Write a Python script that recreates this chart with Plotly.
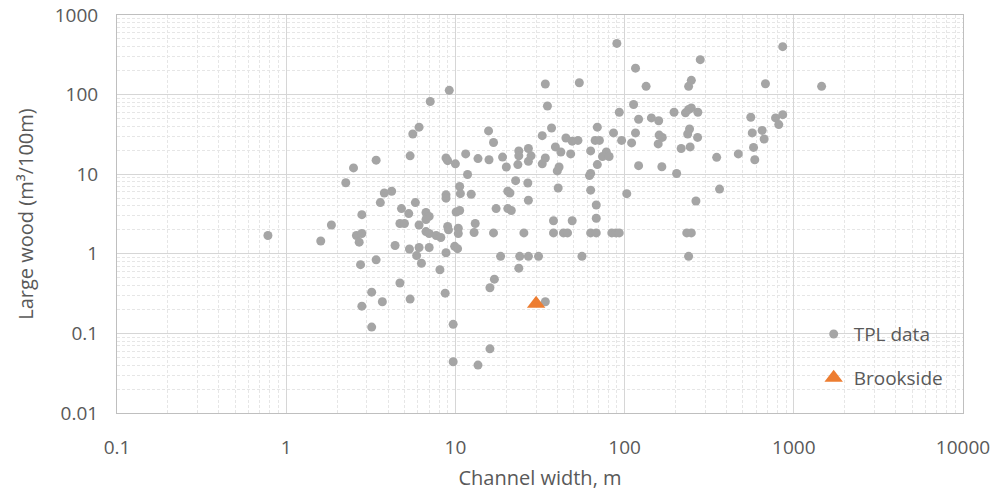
import plotly.graph_objects as go

# TPL data: channel width (m) and large wood volume (m3/100m)
tpl_width = [
    9.2, 7.1, 6.1, 5.6, 5.4, 3.4, 2.5, 8.8, 9.0, 10, 11.5, 13.6, 2.25, 11.8, 3.8, 4.2, 3.6, 10.6, 8.8, 8.8,
    10.7, 12.4, 5.8, 4.8, 5.3, 2.8, 6.7, 7.0, 6.7, 4.7, 5.0, 6.1, 1.85, 10.1, 10.6, 13.1, 9.0, 9.1, 10.4, 10.4,
    12.9, 6.7, 7.0, 7.7, 8.2, 0.78, 2.6, 2.8, 2.7, 1.6, 4.4, 5.35, 6.1, 7.0, 5.9, 6.3, 9.9, 10.3, 8.8, 2.75,
    3.4, 8.1, 4.7, 3.2, 3.7, 5.4, 8.7, 2.8, 3.2, 9.7, 9.7, 13.6, 16,
    90, 280, 116, 34, 54, 134, 248, 239, 35, 113, 93, 196, 229, 239, 248, 271, 121, 144, 159, 15.7,
    16.8, 37, 69, 32.6, 86, 116, 242, 236, 270, 160, 167, 158, 45, 49, 53, 67, 71, 96, 110, 39,
    42, 48, 63, 23.7, 23.7, 27, 28, 27, 15.8, 19, 20, 23.4, 34, 32.6, 78, 74, 81, 69, 41, 40,
    63, 62, 121, 166, 216, 244, 203, 350, 22.7, 26.8, 20.4, 21, 40.5, 63, 103, 364, 27, 17.4, 20.4, 21.4,
    68, 264, 16.8, 25.4, 38, 49, 68, 38, 43.5, 46, 63, 68, 84, 89, 93, 233, 248, 18.5, 24, 27,
    31, 56, 239, 23.7, 17, 16, 34,
    860, 680, 1460, 557, 780, 860, 815, 568, 650, 668, 578, 470, 588,
]
tpl_wood = [
    113, 82, 39, 32, 17, 15, 12, 16, 14.8, 13.5, 18, 15.7, 7.8, 9.9, 5.8, 6.1, 4.4, 7.0, 5.5, 5.0,
    5.7, 5.6, 4.4, 3.7, 3.2, 3.1, 3.3, 2.95, 2.7, 2.4, 2.4, 2.3, 2.3, 3.35, 3.5, 2.4, 2.2, 2.0, 2.1, 1.8,
    1.85, 1.9, 1.8, 1.7, 1.6, 1.7, 1.7, 1.8, 1.4, 1.45, 1.27, 1.15, 1.2, 1.2, 0.95, 0.76, 1.24, 1.16, 1.03, 0.73,
    0.84, 0.63, 0.43, 0.33, 0.25, 0.27, 0.32, 0.22, 0.12, 0.13, 0.044, 0.04, 0.064,
    440, 275, 215, 136, 141, 127, 151, 127, 72, 75, 60, 60, 59, 65, 68, 60, 49, 51, 47, 35,
    25, 38, 39, 30.5, 33, 33, 37, 32, 29, 31, 29, 24, 28.5, 26, 26.6, 26.6, 26.6, 26.6, 24.7, 22,
    19, 18, 19.6, 19.6, 17, 21, 17, 14.5, 15.2, 16.4, 12.3, 13.2, 16, 13.5, 19, 16.7, 16.7, 13.2, 12.3, 11,
    10.2, 9.6, 12.8, 12.4, 21, 22, 10.2, 16.3, 8.3, 7.75, 6.1, 5.8, 6.7, 6.3, 5.7, 6.5, 4.7, 3.7, 3.7, 3.5,
    4.1, 4.6, 1.83, 1.83, 2.6, 2.6, 2.8, 1.83, 1.83, 1.83, 1.83, 1.83, 1.83, 1.83, 1.83, 1.83, 1.83, 0.93, 0.93, 0.93,
    0.93, 0.93, 0.93, 0.66, 0.48, 0.375, 0.25,
    400, 137, 127, 52, 51, 56, 42, 33, 35.5, 27.7, 21.7, 18, 15.2,
]

# Brookside site
brook_width = [30]
brook_wood = [0.235]

x_ticks = [0.1, 1, 10, 100, 1000, 10000]
x_tick_text = ["0.1", "1", "10", "100", "1000", "10000"]
y_ticks = [0.01, 0.1, 1, 10, 100, 1000]
y_tick_text = ["0.01", "0.1", "1", "10", "100", "1000"]

FONT = "Open Sans"
TXT = "#595959"

fig = go.Figure()
fig.add_trace(go.Scatter(
    x=tpl_width, y=tpl_wood, mode="markers", name="TPL data",
    marker=dict(symbol="circle", size=9, color="#a5a5a5"),
    legend="legend",
))
fig.add_trace(go.Scatter(
    x=brook_width, y=brook_wood, mode="markers", name="Brookside",
    marker=dict(symbol="triangle-up", size=16, color="#ed7d31"),
    legend="legend2",
))

axis_common = dict(
    type="log", automargin=False,
    showline=True, mirror=True, linecolor="#bfbfbf", linewidth=1,
    showgrid=True, gridcolor="#d6d6d6", gridwidth=1,
    zeroline=False,
    ticks="outside", tickcolor="rgba(0,0,0,0)",
    ticklabeloverflow="allow",
    tickfont=dict(family=FONT, size=19, color=TXT),
    minor=dict(showgrid=True, gridcolor="#e6e6e6", griddash="3px,2px", gridwidth=1, dtick="D1", ticks=""),
)

fig.update_xaxes(
    **axis_common,
    range=[-1, 4],
    tickvals=x_ticks, ticktext=x_tick_text,
    ticklen=17,
    title=dict(text="Channel width, m", font=dict(family=FONT, size=20, color=TXT), standoff=12),
)
fig.update_yaxes(
    **axis_common,
    range=[-2, 3],
    tickvals=y_ticks, ticktext=y_tick_text,
    ticklen=14,
    title=dict(text="Large wood (m³/100m)", font=dict(family=FONT, size=20, color=TXT), standoff=15),
)

legend_common = dict(
    xanchor="left", yanchor="middle",
    bgcolor="rgba(0,0,0,0)", borderwidth=0,
    font=dict(family=FONT, size=19, color=TXT),
    itemwidth=30,
)
fig.update_layout(
    width=993, height=493,
    margin=dict(l=117, r=30, t=15, b=80),
    paper_bgcolor="white", plot_bgcolor="white",
    legend=dict(x=0.8235, y=0.198, **legend_common),
    legend2=dict(x=0.8235, y=0.088, **legend_common),
    showlegend=True,
)

# remove the default 8px page margin so the figure fills the window exactly
fig.write_html(
    "out.html",
    config={"displayModeBar": False},
    post_script="document.body.style.margin='0';",
)
